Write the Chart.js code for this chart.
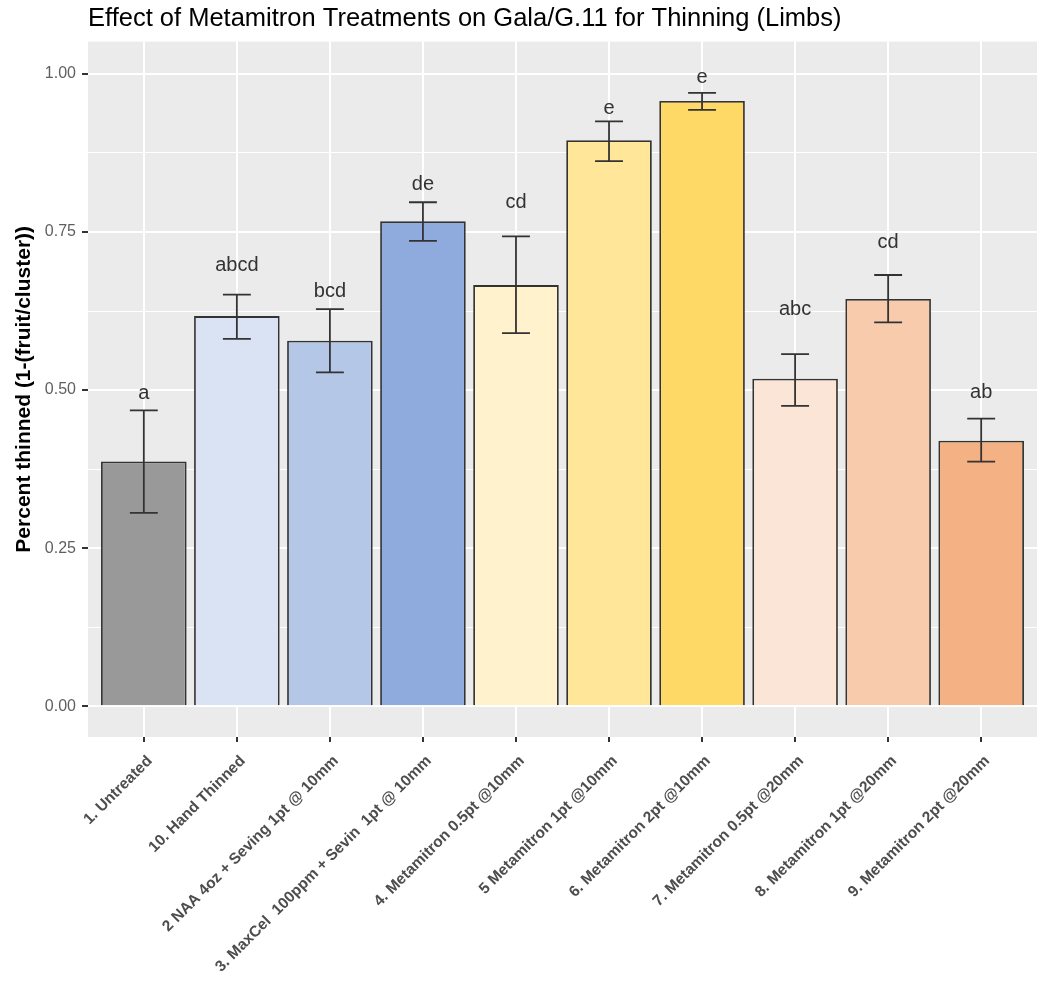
<!DOCTYPE html>
<html>
<head>
<meta charset="utf-8">
<script src="https://cdn.jsdelivr.net/npm/chart.js@4.4.1/dist/chart.umd.min.js"></script>
<style>
  html, body { margin: 0; padding: 0; background: #fff; }
  #wrap { width: 1038px; height: 984px; }
</style>
</head>
<body>
<div id="wrap"><canvas id="barChart"></canvas></div>
<script>
// treatments, in plot order
const categories = [
  '1. Untreated',
  '10. Hand Thinned',
  '2 NAA 4oz + Seving 1pt @ 10mm',
  '3. MaxCel  100ppm + Sevin  1pt @ 10mm',
  '4. Metamitron 0.5pt @10mm',
  '5 Metamitron 1pt @10mm',
  '6. Metamitron 2pt @10mm',
  '7. Metamitron 0.5pt @20mm',
  '8. Metamitron 1pt @20mm',
  '9. Metamitron 2pt @20mm'
];
const means   = [0.387, 0.617, 0.578, 0.767, 0.666, 0.895, 0.957, 0.518, 0.644, 0.420];
const errLow  = [0.306, 0.581, 0.528, 0.736, 0.590, 0.862, 0.943, 0.475, 0.607, 0.387];
const errHigh = [0.468, 0.651, 0.628, 0.797, 0.743, 0.925, 0.970, 0.557, 0.682, 0.455];
const letters = ['a', 'abcd', 'bcd', 'de', 'cd', 'e', 'e', 'abc', 'cd', 'ab'];
const letterY = [0.495, 0.697, 0.656, 0.825, 0.796, 0.945, 0.995, 0.627, 0.734, 0.496];
const barColors = ['#999999', '#DAE3F3', '#B4C7E7', '#8FAADC', '#FFF2CC',
                   '#FFE699', '#FFD966', '#FBE5D6', '#F8CBAD', '#F4B183'];
const yTicks = [0, 0.125, 0.25, 0.375, 0.5, 0.625, 0.75, 0.875, 1.0];

const FONT = "'Liberation Sans', Arial, sans-serif";
const isMajor = v => Math.abs(v / 0.25 - Math.round(v / 0.25)) < 1e-6;

// grey ggplot-style panel
const panelBg = {
  id: 'panelBg',
  beforeDraw(chart) {
    const { ctx, chartArea: a } = chart;
    ctx.save();
    ctx.fillStyle = '#EBEBEB';
    ctx.fillRect(a.left, a.top, a.right - a.left, a.bottom - a.top);
    ctx.restore();
  }
};

// error bars + significance letters
const errorBars = {
  id: 'errorBars',
  afterDatasetsDraw(chart) {
    const { ctx, scales: { x, y } } = chart;
    const band = x.getPixelForValue(1) - x.getPixelForValue(0);
    const cap = band * 0.15;
    ctx.save();
    ctx.strokeStyle = '#333333';
    ctx.lineWidth = 1.8;
    errLow.forEach((lo, i) => {
      const px = x.getPixelForValue(i);
      const yl = y.getPixelForValue(lo);
      const yh = y.getPixelForValue(errHigh[i]);
      ctx.beginPath();
      ctx.moveTo(px, yl); ctx.lineTo(px, yh);
      ctx.moveTo(px - cap, yl); ctx.lineTo(px + cap, yl);
      ctx.moveTo(px - cap, yh); ctx.lineTo(px + cap, yh);
      ctx.stroke();
    });
    ctx.fillStyle = '#333333';
    ctx.font = '20px ' + FONT;
    ctx.textAlign = 'center';
    ctx.textBaseline = 'middle';
    letters.forEach((t, i) => {
      ctx.fillText(t, x.getPixelForValue(i), y.getPixelForValue(letterY[i]));
    });
    ctx.restore();
  }
};

new Chart(document.getElementById('barChart'), {
  type: 'bar',
  data: {
    datasets: [{
      data: means.map((v, i) => ({ x: i, y: v })),
      backgroundColor: barColors,
      borderColor: '#333333',
      borderWidth: 1.8,
      barPercentage: 0.92,
      categoryPercentage: 1.0
    }]
  },
  options: {
    responsive: true,
    maintainAspectRatio: false,
    animation: false,
    layout: { padding: { top: 0, right: 1, left: 0, bottom: 0 } },
    plugins: {
      legend: { display: false },
      tooltip: { enabled: false },
      title: {
        display: true,
        text: 'Effect of Metamitron Treatments on Gala/G.11 for Thinning (Limbs)',
        align: 'start',
        fullSize: false,
        color: '#000000',
        font: { family: FONT, size: 25.5, weight: 'normal' },
        padding: { top: 4, bottom: 7 }
      }
    },
    scales: {
      x: {
        type: 'linear',
        min: -0.6,
        max: 9.6,
        offset: false,
        afterBuildTicks: s => { s.ticks = categories.map((c, i) => ({ value: i })); },
        afterFit: s => { s.height = 247; },
        grid: { offset: false, color: '#FFFFFF', lineWidth: 2, tickColor: '#333333', tickLength: 5 },
        border: { display: false },
        ticks: {
          autoSkip: false,
          minRotation: 45,
          maxRotation: 45,
          padding: 10,
          labelOffset: 6,
          color: '#4D4D4D',
          font: { family: FONT, size: 15.5, weight: 'bold' },
          callback: v => categories[v]
        }
      },
      y: {
        min: -0.0485,
        max: 1.051,
        afterBuildTicks: s => { s.ticks = yTicks.map(v => ({ value: v })); },
        afterFit: s => { s.width = 88; },
        grid: {
          color: '#FFFFFF',
          lineWidth: c => (c.tick && isMajor(c.tick.value) ? 2 : 1),
          tickColor: c => (c.tick && isMajor(c.tick.value) ? '#333333' : 'rgba(0,0,0,0)'),
          tickLength: 6
        },
        border: { display: false },
        ticks: {
          padding: 6,
          color: '#5F5F5F',
          font: { family: FONT, size: 16 },
          callback: v => (isMajor(v) ? v.toFixed(2) : '')
        },
        title: {
          display: true,
          text: 'Percent thinned (1-(fruit/cluster))',
          color: '#000000',
          font: { family: FONT, size: 21, weight: 'bold' },
          padding: { top: 12, bottom: 0 }
        }
      }
    }
  },
  plugins: [panelBg, errorBars]
});
</script>
</body>
</html>
